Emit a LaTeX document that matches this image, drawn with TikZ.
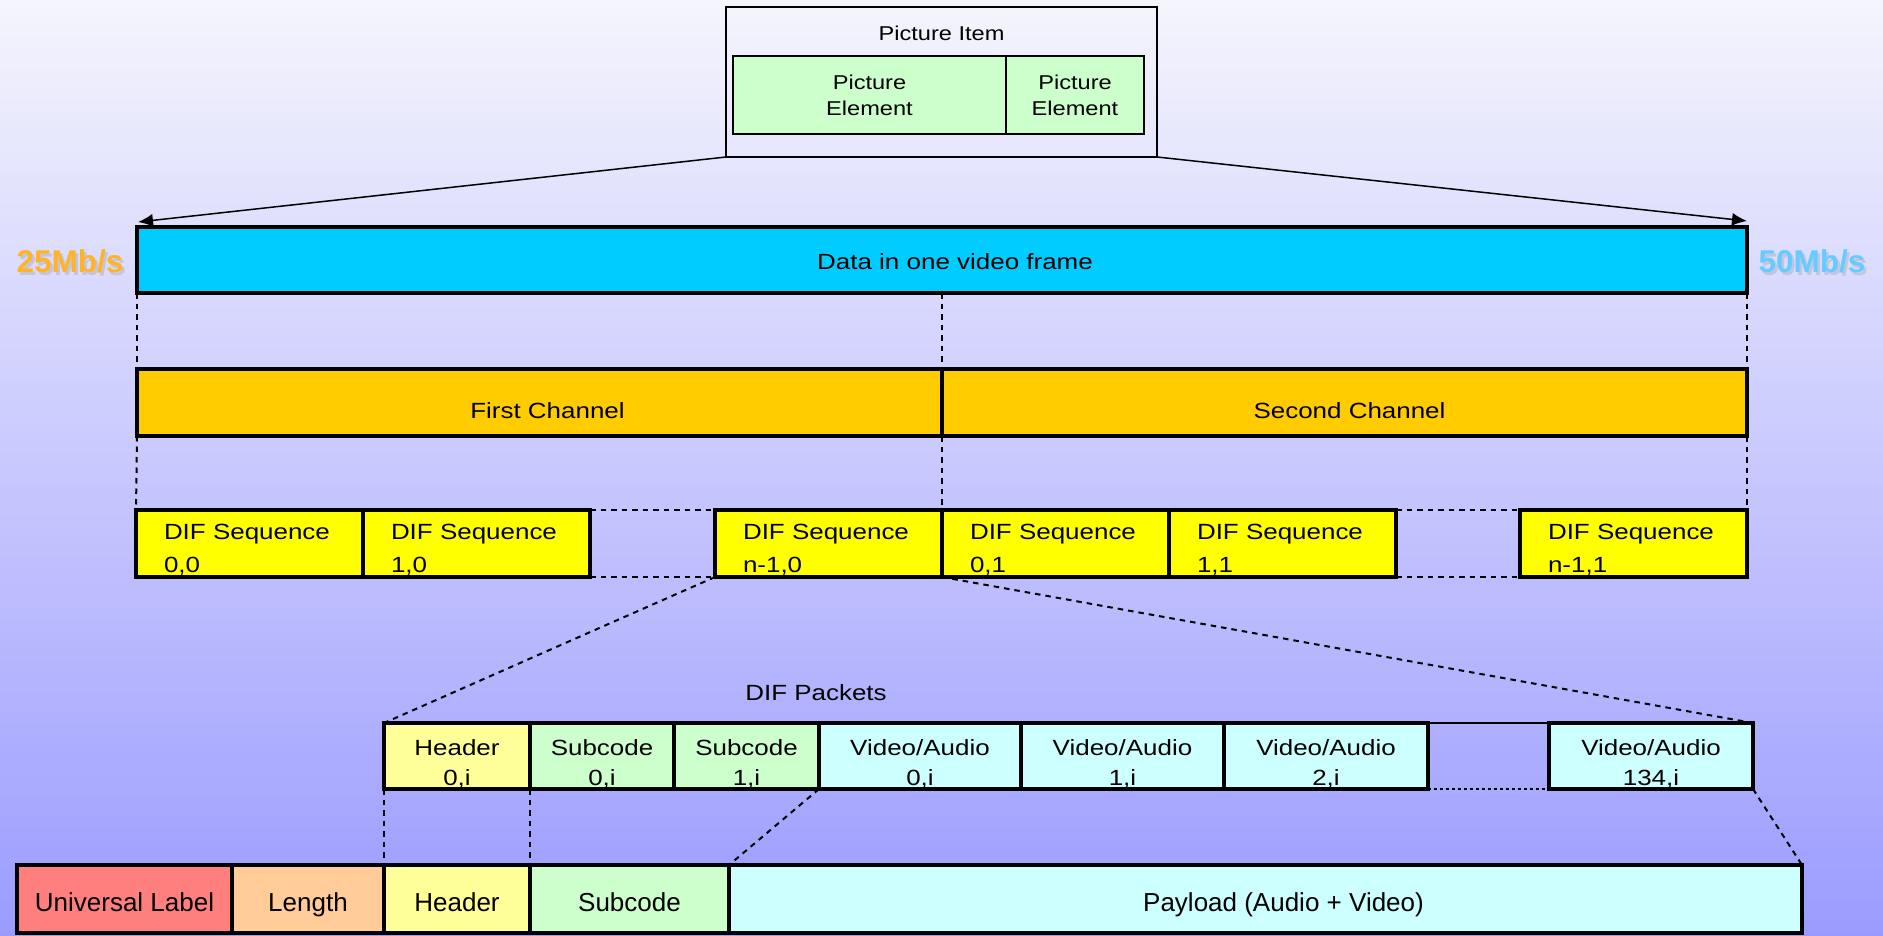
\documentclass[tikz,border=0pt]{standalone}
\usepackage{fontspec}
\setmainfont{Liberation Sans}[FakeStretch=1.18]
\newfontfamily\plainsans{Liberation Sans}
\usetikzlibrary{calc,arrows.meta}

\definecolor{bgtop}{RGB}{245,245,253}
\definecolor{bgbot}{RGB}{155,155,255}
\definecolor{framecyan}{RGB}{0,204,255}
\definecolor{chanorange}{RGB}{255,204,0}
\definecolor{seqyellow}{RGB}{255,255,0}
\definecolor{paleyellow}{RGB}{255,255,153}
\definecolor{palegreen}{RGB}{204,255,204}
\definecolor{palecyan}{RGB}{204,255,255}
\definecolor{labelred}{RGB}{255,127,127}
\definecolor{lengthtan}{RGB}{255,204,153}
\definecolor{rateorange}{RGB}{255,180,40}
\definecolor{rateblue}{RGB}{102,204,255}
\definecolor{rateshadow}{RGB}{196,196,222}

% two stacked lines; the baseline of the first line is the box baseline
\newcommand\stackC[3]{\vtop{\baselineskip=#1\halign{\hfil##\hfil\cr#2\cr#3\cr}}}
\newcommand\stackL[3]{\vtop{\baselineskip=#1\halign{##\hfil\cr#2\cr#3\cr}}}
% text placement inside the cells (height/depth set the vertical position)
\newcommand\seqtext[2]{\raisebox{0pt}[0pt][4.5pt]{\makebox[113.5pt][l]{\hspace*{14pt}\stackL{16.5pt}{#1}{#2}}}}
\newcommand\pkttext[2]{\raisebox{0pt}[0pt][1pt]{\stackC{15pt}{#1}{#2}}}
\newcommand\elemtext[2]{\raisebox{0pt}[0pt][5pt]{\stackC{13pt}{#1}{#2}}}
\newcommand\rowtext[1]{\raisebox{0pt}[12pt][0pt]{#1}}

\tikzset{
  cell/.style={draw=black, line width=1.6pt, inner sep=0pt, outer sep=0pt, rectangle},
  thincell/.style={draw=black, line width=0.85pt, inner sep=0pt, outer sep=0pt, rectangle},
  dims/.style 2 args={minimum width=#1*0.5pt, minimum height=#2*0.5pt},
  mainfont/.style={font=\fontsize{11pt}{13pt}\selectfont},
  elemfont/.style={font=\fontsize{10pt}{13pt}\selectfont},
  rowfont/.style={font=\plainsans\fontsize{13pt}{15pt}\selectfont},
  rate/.style={font=\plainsans\bfseries\fontsize{15.75pt}{18pt}\selectfont, inner sep=0pt, anchor=base},
  guide/.style={line width=1pt, dash pattern=on 2.75pt off 2.5pt},
  fine/.style={line width=0.8pt},
  finedash/.style={line width=0.8pt, dash pattern=on 1.5pt off 1.5pt},
  pointer/.style={line width=0.75pt, -{Latex[length=7.5pt,width=6.5pt]}},
}

\begin{document}
\begin{tikzpicture}[x=0.5pt,y=-0.5pt]
\useasboundingbox (0,0) rectangle (1883,936);
\shade[top color=bgtop, bottom color=bgbot] (0,0) rectangle (1883,936);

% picture item with its two elements
\node[thincell, dims={431}{150}] (pi) at (941.5,82) {};
\node[thincell, fill=palegreen, dims={273}{78}, elemfont] (pe1) at (869.5,95) {\elemtext{Picture}{Element}};
\node[thincell, fill=palegreen, dims={138}{78}, elemfont] (pe2) at (1075,95) {\elemtext{Picture}{Element}};
\node[elemfont, anchor=base, inner sep=0pt] (pit) at ($(pi.north)+(0,34)$) {Picture Item};

% one video frame
\node[cell, fill=framecyan, dims={1610}{66}, mainfont] (frame) at (942,260)
  {\raisebox{0pt}[10pt][0pt]{\hspace*{13pt}Data in one video frame}};

% bit rates, each with a soft drop shadow
\node[rate, text=rateshadow] (r25s) at (72.5,275) {25Mb/s};
\node[rate, text=rateorange] (r25) at (70,272.5) {25Mb/s};
\node[rate, text=rateshadow] (r50s) at (1814.5,275) {50Mb/s};
\node[rate, text=rateblue] (r50) at (1812,272.5) {50Mb/s};

% channels
\node[cell, fill=chanorange, dims={805}{67}, mainfont] (ch1) at (539.5,402.5)
  {\raisebox{0pt}[15.5pt][0pt]{\hspace*{8pt}First Channel}};
\node[cell, fill=chanorange, dims={805}{67}, mainfont] (ch2) at (1344.5,402.5)
  {\raisebox{0pt}[15.5pt][0pt]{\hspace*{5pt}Second Channel}};

% DIF sequences
\node[cell, fill=seqyellow, dims={227}{67}, mainfont] (d1) at (249.5,543.5) {\seqtext{DIF Sequence}{0,0}};
\node[cell, fill=seqyellow, dims={227}{67}, mainfont] (d2) at (476.5,543.5) {\seqtext{DIF Sequence}{1,0}};
\node[cell, fill=seqyellow, dims={227}{67}, mainfont] (d3) at (828.5,543.5) {\seqtext{DIF Sequence}{n-1,0}};
\node[cell, fill=seqyellow, dims={227}{67}, mainfont] (d4) at (1055.5,543.5) {\seqtext{DIF Sequence}{0,1}};
\node[cell, fill=seqyellow, dims={227}{67}, mainfont] (d5) at (1282.5,543.5) {\seqtext{DIF Sequence}{1,1}};
\node[cell, fill=seqyellow, dims={227}{67}, mainfont] (d6) at (1633.5,543.5) {\seqtext{DIF Sequence}{n-1,1}};

% DIF packets of one sequence
\node[mainfont, anchor=base, inner sep=0pt] (pkts) at (816,700) {DIF Packets};
\node[cell, fill=paleyellow, dims={146}{66}, mainfont] (hp) at (457,756) {\pkttext{Header}{0,i}};
\node[cell, fill=palegreen, dims={144}{66}, mainfont] (s0) at (602,756) {\pkttext{Subcode}{0,i}};
\node[cell, fill=palegreen, dims={145}{66}, mainfont] (s1) at (746.5,756) {\pkttext{Subcode}{1,i}};
\node[cell, fill=palecyan, dims={202}{66}, mainfont] (v0) at (920,756) {\pkttext{Video/Audio}{0,i}};
\node[cell, fill=palecyan, dims={203}{66}, mainfont] (v1) at (1122.5,756) {\pkttext{Video/Audio}{1,i}};
\node[cell, fill=palecyan, dims={204}{66}, mainfont] (v2) at (1326,756) {\pkttext{Video/Audio}{2,i}};
\node[cell, fill=palecyan, dims={204}{66}, mainfont] (v134) at (1651,756) {\pkttext{Video/Audio}{134,i}};

% KLV packet
\node[cell, fill=labelred, dims={215}{68}, rowfont] (ul) at (124.5,899) {\rowtext{Universal Label}};
\node[cell, fill=lengthtan, dims={152}{68}, rowfont] (len) at (308,899) {\rowtext{Length}};
\node[cell, fill=paleyellow, dims={146}{68}, rowfont] (hdr) at (457,899) {\rowtext{Header}};
\node[cell, fill=palegreen, dims={199}{68}, rowfont] (sub) at (629.5,899) {\rowtext{Subcode}};
\node[cell, fill=palecyan, dims={1073}{68}, rowfont] (pay) at (1265.5,899) {\rowtext{\hspace*{18pt}Payload (Audio + Video)}};

% arrows from the picture item to the frame
\coordinate (tipL) at ($(frame.north west)+(1,-5)$);
\coordinate (tipR) at ($(frame.north east)+(0,-6)$);
\draw[pointer] (pi.south west) -- (tipL);
\draw[pointer] (pi.south east) -- (tipR);

% frame -> channels -> sequences
\draw[guide] (frame.south west) -- (ch1.north west);
\draw[guide] (frame.south) -- (ch1.north east);
\draw[guide] (frame.south east) -- (ch2.north east);
\draw[guide] (ch1.south west) -- (d1.north west);
\draw[guide] (ch1.south east) -- (d4.north west);
\draw[guide] (ch2.south east) -- (d6.north east);

% omitted sequences
\draw[guide] (d2.north east) -- (d3.north west);
\draw[guide] (d2.south east) -- (d3.south west);
\draw[guide] (d5.north east) -- (d6.north west);
\draw[guide] (d5.south east) -- (d6.south west);

% sequence -> packets
\draw[guide] (d3.south west) -- (hp.north west);
\draw[guide] (d3.south east) -- (v134.north east);

% omitted packets
\draw[fine] (v2.north east) -- (v134.north west);
\draw[finedash] (v2.south east) -- (v134.south west);

% packets -> KLV packet
\draw[guide] (hp.south west) -- (hdr.north west);
\draw[guide] (hp.south east) -- (hdr.north east);
\draw[guide] (s1.south east) -- (pay.north west);
\draw[guide] (v134.south east) -- (pay.north east);
\end{tikzpicture}
\end{document}
